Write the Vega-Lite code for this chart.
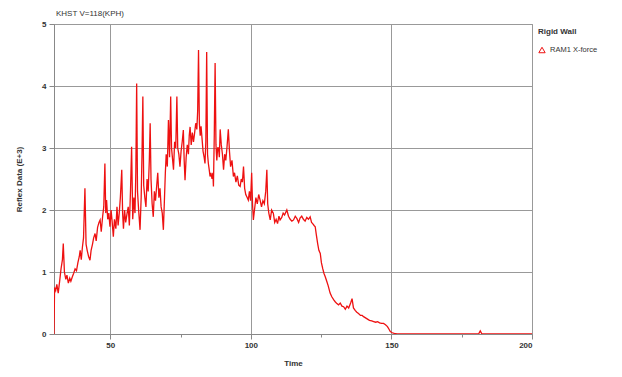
{
  "$schema": "https://vega.github.io/schema/vega-lite/v6.json",
  "autosize": "none",
  "width": 478,
  "height": 310,
  "padding": {"left": 54, "top": 24, "right": 90, "bottom": 43},
  "background": "white",
  "config": {
    "font": "Liberation Sans",
    "view": {"stroke": "#999999", "strokeWidth": 1},
    "axis": {"labelFont": "Liberation Sans", "titleFont": "Liberation Sans", "labelFontSize": 8, "titleFontSize": 8, "labelColor": "#333", "titleColor": "#333", "gridColor": "#999999", "domainColor": "#888", "tickColor": "#888", "labelFontWeight": "bold", "titleFontWeight": "bold"}
  },
  "title": {"text": "KHST V=118(KPH)", "anchor": "start", "frame": "group", "fontSize": 8, "fontWeight": "normal", "color": "#333", "offset": 2, "dx": 2},
  "data": {"values": [
    {"t":30.0,"v":0},{"t":30.2,"v":0.75},{"t":30.6,"v":0.70},{"t":31.0,"v":0.80},{"t":31.5,"v":0.66},{"t":32.0,"v":0.85},{"t":32.5,"v":1.05},{"t":33.0,"v":1.20},{"t":33.3,"v":1.46},{"t":33.7,"v":1.00},{"t":34.2,"v":0.88},{"t":34.6,"v":0.95},{"t":35.1,"v":0.82},{"t":35.6,"v":0.90},{"t":36.0,"v":0.85},{"t":36.5,"v":0.92},{"t":37.0,"v":0.98},{"t":37.5,"v":1.05},{"t":38.0,"v":1.02},{"t":38.5,"v":1.15},{"t":39.0,"v":1.25},{"t":39.3,"v":1.35},{"t":39.7,"v":1.20},{"t":40.1,"v":1.40},{"t":40.5,"v":1.55},{"t":41.0,"v":2.35},{"t":41.4,"v":1.45},{"t":41.8,"v":1.35},{"t":42.3,"v":1.25},{"t":42.8,"v":1.19},{"t":43.2,"v":1.35},{"t":43.7,"v":1.45},{"t":44.1,"v":1.55},{"t":44.6,"v":1.62},{"t":45.0,"v":1.50},{"t":45.5,"v":1.72},{"t":46.0,"v":1.80},{"t":46.4,"v":1.84},{"t":46.8,"v":1.65},{"t":47.3,"v":1.90},{"t":47.7,"v":2.05},{"t":48.1,"v":2.75},{"t":48.4,"v":1.95},{"t":48.7,"v":2.16},{"t":49.1,"v":1.85},{"t":49.5,"v":1.95},{"t":49.9,"v":1.73},{"t":50.3,"v":2.00},{"t":50.7,"v":1.80},{"t":51.1,"v":1.57},{"t":51.5,"v":1.85},{"t":52.0,"v":1.70},{"t":52.4,"v":2.05},{"t":52.8,"v":1.75},{"t":53.2,"v":1.95},{"t":53.6,"v":2.20},{"t":54.1,"v":2.65},{"t":54.4,"v":1.95},{"t":54.7,"v":1.70},{"t":55.1,"v":2.00},{"t":55.5,"v":1.80},{"t":56.0,"v":1.95},{"t":56.4,"v":2.05},{"t":56.8,"v":1.75},{"t":57.2,"v":2.30},{"t":57.6,"v":3.02},{"t":58.0,"v":1.85},{"t":58.4,"v":2.20},{"t":58.8,"v":1.95},{"t":59.1,"v":2.60},{"t":59.4,"v":4.04},{"t":59.7,"v":2.30},{"t":60.1,"v":2.00},{"t":60.6,"v":1.68},{"t":61.0,"v":2.20},{"t":61.3,"v":2.90},{"t":61.6,"v":3.83},{"t":61.9,"v":2.40},{"t":62.3,"v":2.20},{"t":62.7,"v":2.05},{"t":63.1,"v":2.50},{"t":63.5,"v":2.30},{"t":63.9,"v":2.80},{"t":64.2,"v":3.40},{"t":64.5,"v":2.50},{"t":64.9,"v":2.10},{"t":65.3,"v":1.89},{"t":65.7,"v":2.30},{"t":66.1,"v":2.15},{"t":66.5,"v":2.38},{"t":66.9,"v":2.60},{"t":67.3,"v":2.20},{"t":67.7,"v":2.35},{"t":68.1,"v":2.05},{"t":68.5,"v":1.95},{"t":68.9,"v":1.68},{"t":69.3,"v":2.20},{"t":69.6,"v":2.60},{"t":69.9,"v":2.90},{"t":70.3,"v":2.70},{"t":70.7,"v":3.45},{"t":71.1,"v":2.85},{"t":71.5,"v":3.83},{"t":71.8,"v":3.00},{"t":72.2,"v":2.80},{"t":72.5,"v":2.65},{"t":72.9,"v":3.10},{"t":73.3,"v":3.00},{"t":73.7,"v":3.83},{"t":74.0,"v":3.00},{"t":74.4,"v":2.90},{"t":74.8,"v":2.70},{"t":75.2,"v":2.95},{"t":75.6,"v":3.10},{"t":76.0,"v":3.29},{"t":76.3,"v":2.80},{"t":76.6,"v":2.48},{"t":77.0,"v":2.85},{"t":77.4,"v":3.05},{"t":77.8,"v":2.90},{"t":78.1,"v":3.20},{"t":78.4,"v":3.34},{"t":78.8,"v":3.05},{"t":79.2,"v":3.25},{"t":79.6,"v":3.10},{"t":80.0,"v":3.24},{"t":80.4,"v":3.40},{"t":80.8,"v":3.30},{"t":81.1,"v":3.60},{"t":81.4,"v":4.58},{"t":81.7,"v":3.40},{"t":82.0,"v":3.20},{"t":82.3,"v":3.35},{"t":82.6,"v":3.18},{"t":83.0,"v":2.95},{"t":83.4,"v":2.85},{"t":83.7,"v":2.75},{"t":84.0,"v":3.10},{"t":84.3,"v":4.55},{"t":84.6,"v":2.90},{"t":84.9,"v":2.75},{"t":85.2,"v":2.65},{"t":85.5,"v":2.54},{"t":85.8,"v":2.60},{"t":86.2,"v":2.50},{"t":86.5,"v":2.60},{"t":86.7,"v":2.38},{"t":87.0,"v":3.20},{"t":87.3,"v":4.37},{"t":87.6,"v":3.05},{"t":87.9,"v":2.80},{"t":88.2,"v":3.00},{"t":88.5,"v":3.00},{"t":88.8,"v":2.85},{"t":89.1,"v":3.30},{"t":89.5,"v":3.05},{"t":89.9,"v":2.90},{"t":90.3,"v":2.65},{"t":90.7,"v":2.90},{"t":91.1,"v":2.80},{"t":91.5,"v":3.00},{"t":92.0,"v":3.30},{"t":92.4,"v":2.95},{"t":92.8,"v":2.70},{"t":93.3,"v":2.80},{"t":93.8,"v":2.54},{"t":94.2,"v":2.60},{"t":94.7,"v":2.45},{"t":95.2,"v":2.55},{"t":95.7,"v":2.40},{"t":96.2,"v":2.38},{"t":96.6,"v":2.50},{"t":97.0,"v":2.45},{"t":97.4,"v":2.70},{"t":97.8,"v":2.35},{"t":98.2,"v":2.25},{"t":98.7,"v":2.20},{"t":99.1,"v":2.16},{"t":99.5,"v":2.30},{"t":99.9,"v":2.15},{"t":100.3,"v":2.60},{"t":100.6,"v":2.10},{"t":100.9,"v":1.84},{"t":101.3,"v":2.00},{"t":101.8,"v":2.20},{"t":102.3,"v":2.10},{"t":102.8,"v":2.25},{"t":103.3,"v":2.16},{"t":103.8,"v":2.05},{"t":104.3,"v":2.15},{"t":104.8,"v":2.10},{"t":105.3,"v":2.30},{"t":105.7,"v":2.65},{"t":106.0,"v":2.10},{"t":106.4,"v":1.95},{"t":106.9,"v":1.84},{"t":107.4,"v":2.00},{"t":108.0,"v":1.95},{"t":108.5,"v":1.80},{"t":109.0,"v":1.85},{"t":109.5,"v":1.78},{"t":110.0,"v":1.90},{"t":110.4,"v":1.84},{"t":111.0,"v":1.88},{"t":111.5,"v":1.95},{"t":112.0,"v":1.92},{"t":112.8,"v":2.00},{"t":113.4,"v":1.90},{"t":114.0,"v":1.85},{"t":114.6,"v":1.82},{"t":115.2,"v":1.84},{"t":115.8,"v":1.90},{"t":116.4,"v":1.86},{"t":117.0,"v":1.80},{"t":117.5,"v":1.87},{"t":118.1,"v":1.90},{"t":118.7,"v":1.85},{"t":119.3,"v":1.82},{"t":119.9,"v":1.88},{"t":120.5,"v":1.85},{"t":121.1,"v":1.89},{"t":121.6,"v":1.80},{"t":122.0,"v":1.78},{"t":122.5,"v":1.75},{"t":122.9,"v":1.73},{"t":123.3,"v":1.60},{"t":123.8,"v":1.45},{"t":124.2,"v":1.35},{"t":124.7,"v":1.30},{"t":125.1,"v":1.15},{"t":125.6,"v":1.05},{"t":126.0,"v":0.98},{"t":126.5,"v":0.92},{"t":127.0,"v":0.85},{"t":127.5,"v":0.78},{"t":128.2,"v":0.66},{"t":128.8,"v":0.60},{"t":129.5,"v":0.55},{"t":130.0,"v":0.52},{"t":130.6,"v":0.49},{"t":131.2,"v":0.47},{"t":131.8,"v":0.50},{"t":132.4,"v":0.45},{"t":133.0,"v":0.44},{"t":133.6,"v":0.40},{"t":134.2,"v":0.45},{"t":134.8,"v":0.42},{"t":135.5,"v":0.50},{"t":136.0,"v":0.57},{"t":136.5,"v":0.42},{"t":137.1,"v":0.38},{"t":137.7,"v":0.35},{"t":138.3,"v":0.33},{"t":139.0,"v":0.30},{"t":139.6,"v":0.30},{"t":140.1,"v":0.28},{"t":140.8,"v":0.26},{"t":141.5,"v":0.24},{"t":142.2,"v":0.22},{"t":143.0,"v":0.21},{"t":143.7,"v":0.20},{"t":144.4,"v":0.19},{"t":145.1,"v":0.20},{"t":145.8,"v":0.18},{"t":146.5,"v":0.17},{"t":147.2,"v":0.17},{"t":147.9,"v":0.15},{"t":148.6,"v":0.12},{"t":149.1,"v":0.08},{"t":149.6,"v":0.04},{"t":150.3,"v":0.02},{"t":151.0,"v":0.01},{"t":152.0,"v":0.0},{"t":160.0,"v":0.0},{"t":170.0,"v":0.0},{"t":181.0,"v":0.0},{"t":181.6,"v":0.05},{"t":182.2,"v":0.0},{"t":190.0,"v":0.0},{"t":200.0,"v":0.0}
  ]},
  "transform": [{"calculate": "'RAM1 X-force'", "as": "series"}],
  "mark": {"type": "line", "strokeWidth": 1.3, "clip": true},
  "encoding": {
    "x": {"field": "t", "type": "quantitative", "title": "Time",
      "scale": {"domain": [30, 200], "nice": false, "zero": false},
      "axis": {"values": [50, 75, 100, 125, 150, 175, 200], "format": "d",
        "labelExpr": "datum.value % 50 === 0 ? datum.label : ''",
        "gridOpacity": {"condition": {"test": "datum.value % 50 !== 0", "value": 0}, "value": 1},
        "tickSize": {"condition": {"test": "datum.value % 50 !== 0", "value": 3}, "value": 5},
        "labelPadding": 2, "titlePadding": 10}},
    "y": {"field": "v", "type": "quantitative", "title": "Reflex Data (E+3)",
      "scale": {"domain": [0, 5], "nice": false},
      "axis": {"values": [0, 0.5, 1, 1.5, 2, 2.5, 3, 3.5, 4, 4.5, 5], "format": "d",
        "labelExpr": "datum.value % 1 === 0 ? datum.label : ''",
        "gridOpacity": {"condition": {"test": "datum.value % 1 !== 0", "value": 0}, "value": 1},
        "tickSize": {"condition": {"test": "datum.value % 1 !== 0", "value": 3}, "value": 5},
        "labelPadding": 3, "titlePadding": 18}},
    "color": {"field": "series", "type": "nominal",
      "scale": {"range": ["#ee1111"]},
      "legend": {"title": "Rigid Wall", "orient": "none", "legendX": 484, "legendY": 4,
        "titleFontSize": 8, "titleFontWeight": "bold", "titleColor": "#333", "labelFontSize": 7.5, "labelColor": "#333",
        "symbolType": "triangle-up", "symbolSize": 40, "symbolStrokeWidth": 1, "symbolFillColor": "white", "titlePadding": 10}}
  }
}
